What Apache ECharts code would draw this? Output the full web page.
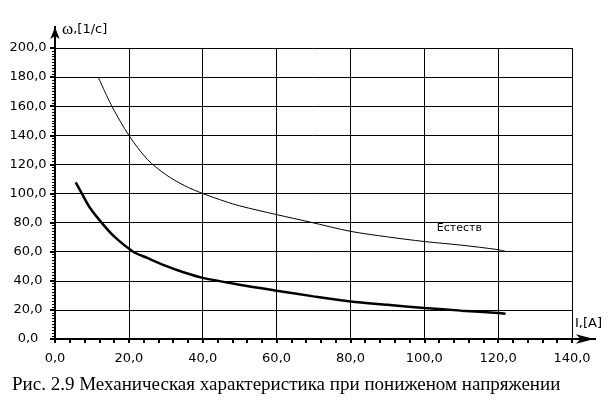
<!DOCTYPE html>
<html>
<head>
<meta charset="utf-8">
<script src="https://cdn.jsdelivr.net/npm/echarts@6/dist/echarts.min.js"></script>
<style>
  html, body { margin: 0; padding: 0; background: #fff; }
  #chart { width: 615px; height: 403px; }
</style>
</head>
<body>
<div id="chart"></div>
<script>
// естественная характеристика (тонкая линия)
const currentNat = [11.7, 15.4, 20, 25, 30, 35, 40, 46, 50, 60, 69, 80, 90, 100, 110, 120, 122];
const omegaNat = [180, 160, 140, 123.5, 113, 105.5, 100, 94.6, 91.5, 85.5, 80.4, 74, 70.2, 67, 64.5, 61.4, 60.2];
// при пониженном напряжении (толстая линия)
const currentLow = [5.6, 7.2, 9.5, 12.6, 16, 21.2, 25, 30, 35, 40, 50, 60, 70, 80, 90, 100, 110, 120, 122];
const omegaLow = [107.6, 100.3, 90, 80, 70.5, 60, 55.7, 50.3, 45.7, 42, 37.3, 33.2, 29.3, 25.8, 23.5, 21.3, 19.5, 17.9, 17.4];

const natLabel = 'Естеств';
const natLabelAt = [109.5, 76.5];
const caption = 'Рис. 2.9 Механическая характеристика при пониженом напряжении';

const fmt = v => v.toFixed(1).replace('.', ',');

const chart = echarts.init(document.getElementById('chart'));

const axisLine = (size, offset) => ({
  show: true,
  onZero: false,
  lineStyle: { color: '#000', width: 2 },
  symbol: ['none', 'arrow'],
  symbolSize: size,
  symbolOffset: [0, offset]
});

chart.setOption({
  animation: false,
  title: {
    text: caption,
    left: 12,
    top: 376,
    padding: 0,
    textStyle: { fontFamily: 'Liberation Serif', fontSize: 19, fontWeight: 'normal', color: '#000' }
  },
  grid: { left: 55, right: 43, top: 48, bottom: 64 },
  xAxis: {
    type: 'value',
    min: 0, max: 140, interval: 20,
    name: 'I,[A]',
    nameLocation: 'end',
    nameGap: 3,
    nameTextStyle: { fontFamily: 'DejaVu Sans', fontSize: 13, color: '#000', align: 'left', verticalAlign: 'bottom', padding: [0, 0, 9, 0] },
    axisLine: axisLine([7, 18], 22),
    axisTick: { show: true, length: 4, lineStyle: { color: '#000', width: 2 } },
    minorTick: { show: true, splitNumber: 5, length: 4, lineStyle: { color: '#000', width: 2 } },
    axisLabel: { formatter: fmt, fontFamily: 'DejaVu Sans', fontSize: 13, color: '#000', margin: 13 },
    splitLine: { show: true, lineStyle: { color: '#000', width: 1 } }
  },
  yAxis: {
    type: 'value',
    min: 0, max: 200, interval: 20,
    name: '{w|ω},[1/c]',
    nameLocation: 'end',
    nameGap: 18,
    nameTextStyle: {
      fontFamily: 'DejaVu Sans', fontSize: 13, color: '#000', align: 'left', verticalAlign: 'middle', padding: [0, 0, 0, 7],
      rich: { w: { fontFamily: 'Liberation Serif', fontSize: 17, color: '#000' } }
    },
    axisLine: axisLine([7, 12], 21),
    axisTick: { show: true, length: 5, lineStyle: { color: '#000', width: 2 } },
    minorTick: { show: true, splitNumber: 10, length: 3, lineStyle: { color: '#000', width: 1 } },
    axisLabel: { formatter: fmt, fontFamily: 'DejaVu Sans', fontSize: 13, color: '#000', align: 'center', margin: 27 },
    splitLine: { show: true, lineStyle: { color: '#000', width: 1 } }
  },
  series: [
    {
      type: 'line',
      data: currentNat.map((x, i) => [x, omegaNat[i]]),
      showSymbol: false,
      smooth: 0.3,
      lineStyle: { color: '#000', width: 1 },
      markPoint: {
        symbol: 'circle', symbolSize: 0,
        label: { show: true, position: 'inside', formatter: natLabel, fontFamily: 'DejaVu Sans', fontSize: 11, color: '#000' },
        data: [{ coord: natLabelAt }]
      }
    },
    {
      type: 'line',
      data: currentLow.map((x, i) => [x, omegaLow[i]]),
      showSymbol: false,
      smooth: 0.3,
      lineStyle: { color: '#000', width: 2.5 }
    }
  ]
});

// продолжение осей до стрелок
const yEnd = chart.convertToPixel({ seriesIndex: 0 }, [0, 200]);
const xEnd = chart.convertToPixel({ seriesIndex: 0 }, [140, 0]);
if (yEnd && xEnd) {
  chart.setOption({
    graphic: [
      { type: 'line', shape: { x1: yEnd[0], y1: yEnd[1], x2: yEnd[0], y2: yEnd[1] - 22 }, style: { stroke: '#000', lineWidth: 2 } },
      { type: 'line', shape: { x1: xEnd[0], y1: xEnd[1], x2: xEnd[0] + 24, y2: xEnd[1] }, style: { stroke: '#000', lineWidth: 2 } }
    ]
  });
}
</script>
</body>
</html>
